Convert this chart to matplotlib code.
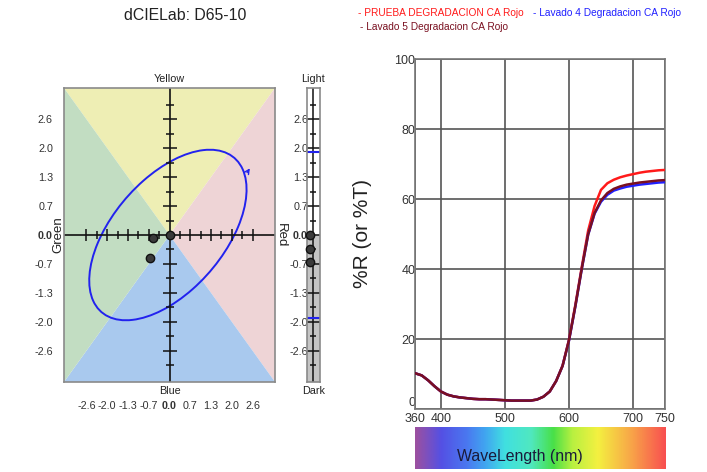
import matplotlib
matplotlib.use("Agg")
import matplotlib.font_manager as fm
import matplotlib.pyplot as plt
import numpy as np
from matplotlib.colors import LinearSegmentedColormap
from matplotlib.patches import Ellipse, Polygon

# the reference uses a narrow Arial; fall back to smaller regular text
_names = {f.name for f in fm.fontManager.ttflist}
if "Liberation Sans Narrow" in _names:
    NARROW, K = ["Liberation Sans Narrow", "DejaVu Sans"], 1.0
else:
    NARROW, K = ["Liberation Sans", "DejaVu Sans"], 0.82
REGULAR = ["Liberation Sans", "DejaVu Sans"]
plt.rcParams["font.family"] = NARROW

# --- colour difference (dCIELab) data ---
LAB_TICKS = [-2.6, -1.95, -1.3, -0.65, 0.0, 0.65, 1.3, 1.95, 2.6]
LAB_TICK_LABELS = ["-2.6", "-2.0", "-1.3", "-0.7", "0.0", "0.7", "1.3", "2.0", "2.6"]
DA = [0.0, -0.52, -0.60]
DB = [0.0, -0.07, -0.51]
DL = [0.0, -0.32, -0.61]
TOL_CENTER = (-0.05, 0.0)
TOL_WIDTH = 5.53
TOL_HEIGHT = 2.88
TOL_ANGLE = 32.3
TOL_DL = 1.86

# --- reflectance spectra ---
WAVELENGTH = [360, 370, 380, 390, 400, 410, 420, 430, 440, 450,
              460, 470, 480, 490, 500, 510, 520, 530, 540, 550,
              560, 570, 580, 590, 600, 610, 620, 630, 640, 650,
              660, 670, 680, 690, 700, 710, 720, 730, 740, 750]
PRUEBA = [10.2, 9.6, 8.2, 6.5, 5.0, 4.1, 3.6, 3.3, 3.1, 2.9,
          2.8, 2.8, 2.7, 2.6, 2.5, 2.4, 2.4, 2.4, 2.4, 2.7,
          3.5, 5.0, 8.0, 12.4, 19.8, 29.8, 40.6, 51.0, 58.0, 62.6,
          64.5, 65.5, 66.2, 66.7, 67.1, 67.5, 67.8, 68.0, 68.2, 68.3]
LAVADO4 = [10.2, 9.6, 8.2, 6.5, 5.0, 4.1, 3.6, 3.3, 3.1, 2.9,
           2.8, 2.8, 2.7, 2.6, 2.5, 2.4, 2.4, 2.4, 2.4, 2.7,
           3.5, 5.0, 8.0, 12.3, 19.5, 29.3, 40.0, 49.8, 55.8, 59.2,
           61.2, 62.4, 63.0, 63.5, 63.8, 64.1, 64.3, 64.5, 64.7, 64.8]
LAVADO5 = [10.2, 9.6, 8.2, 6.5, 5.0, 4.1, 3.6, 3.3, 3.1, 2.9,
           2.8, 2.8, 2.7, 2.6, 2.5, 2.4, 2.4, 2.4, 2.4, 2.7,
           3.5, 5.0, 8.0, 12.3, 19.6, 29.4, 40.1, 49.9, 56.0, 59.6,
           61.7, 62.9, 63.6, 64.1, 64.4, 64.7, 64.9, 65.1, 65.3, 65.4]
SERIES = [
    ("- PRUEBA DEGRADACION CA Rojo", PRUEBA, "#ff1a1a"),
    ("- Lavado 4 Degradacion CA Rojo", LAVADO4, "#2020ff"),
    ("- Lavado 5 Degradacion CA Rojo", LAVADO5, "#7a1020"),
]
SPECTRUM_NM = [360, 400, 440, 470, 500, 540, 575, 605, 645, 695, 750]
SPECTRUM_COLORS = ["#9c50a0", "#5450e4", "#4a78f0", "#40a8f0", "#40e0e0",
                   "#50e8c0", "#48e048", "#b8f040", "#f4f040", "#f8a848", "#f85050"]

W, H = 707, 472
LIM = 3.3
BLUE = "#2222ee"
SMALL = 9.5 * K

fig = plt.figure(figsize=(W / 100, H / 100), dpi=100)


def px_axes(x0, y0, x1, y1):
    return fig.add_axes([x0 / W, 1 - y1 / H, (x1 - x0) / W, (y1 - y0) / H])


# ---------- a*/b* chart ----------
ax = px_axes(64, 88, 275, 382)
ax.set_xlim(-LIM, LIM)
ax.set_ylim(-LIM, LIM)
quads = [
    ([(0, 0), (-LIM, LIM), (LIM, LIM)], "#eeeeb4"),
    ([(0, 0), (LIM, LIM), (LIM, -LIM)], "#eed4d6"),
    ([(0, 0), (LIM, -LIM), (-LIM, -LIM)], "#a9c9ee"),
    ([(0, 0), (-LIM, -LIM), (-LIM, LIM)], "#c2ddc2"),
]
for pts, col in quads:
    ax.add_patch(Polygon(pts, closed=True, facecolor=col, edgecolor="none"))
ax.axhline(0, color="#111", lw=1.2)
ax.axvline(0, color="#111", lw=1.2)

step = 0.325
xt = np.arange(-8, 9) * step
yt = np.arange(-9, 10) * step
for k, v in zip(range(-8, 9), xt):
    if k:
        ax.plot(v, 0, marker="|", ms=8 if k % 2 == 0 else 5.5, mew=1.1, color="#111")
for k, v in zip(range(-9, 10), yt):
    if k:
        ax.plot(0, v, marker="_", ms=10.5 if k % 2 == 0 else 5.5, mew=1.1, color="#111")

ax.add_patch(Ellipse(TOL_CENTER, TOL_WIDTH, TOL_HEIGHT, angle=TOL_ANGLE,
                     fill=False, edgecolor=BLUE, lw=1.4))
ax.annotate("", xy=(2.56, 1.55), xytext=(2.38, 1.35),
            arrowprops=dict(arrowstyle="->", color=BLUE, lw=1.0,
                            mutation_scale=8))
ax.plot(DA, DB, "o", ms=6, color="#3a3a3a", mec="#111", zorder=5)

ax.set_xticks(LAB_TICKS, LAB_TICK_LABELS)
ax.set_yticks(LAB_TICKS, LAB_TICK_LABELS)
ax.tick_params(length=0, labelsize=SMALL, labelcolor="#333")
ax.tick_params(axis="x", pad=14)
ax.tick_params(axis="y", pad=8)
for lab in ax.get_xticklabels() + ax.get_yticklabels():
    if lab.get_text() == "0.0":
        lab.set_fontweight("bold")
for s in ax.spines.values():
    s.set_color("#8a8a8a")
    s.set_linewidth(1.2)
ax.text(0.5, 1.012, "Yellow", transform=ax.transAxes, ha="center", va="bottom",
        fontsize=SMALL, color="#222")
ax.text(0.5, -0.012, "Blue", transform=ax.transAxes, ha="center", va="top",
        fontsize=SMALL, color="#222")
ax.text(-0.028, 0.5, "Green", transform=ax.transAxes, ha="center", va="center",
        rotation=90, fontsize=9.5, color="#222", family=REGULAR)
ax.text(1.028, 0.5, "Red", transform=ax.transAxes, ha="center", va="center",
        rotation=-90, fontsize=9.5, color="#222", family=REGULAR)

# ---------- lightness bar ----------
axl = px_axes(306.7, 88, 320, 382)
axl.set_xlim(-1, 1)
axl.set_ylim(-LIM, LIM)
axl.axhspan(0, LIM, color="white")
axl.axhspan(-LIM, 0, color="#c4c4c4")
axl.axvline(0, color="#111", lw=1.1)
for k, v in zip(range(-9, 10), yt):
    axl.plot(0, v, marker="_", ms=10 if k % 2 == 0 else 5, mew=1.1, color="#111")
for v in (TOL_DL, -TOL_DL):
    axl.axhline(v, color=BLUE, lw=1.5)
axl.plot([-0.45] * len(DL), DL, "o", ms=6, color="#3a3a3a", mec="#111", zorder=5,
         clip_on=False)
axl.set_xticks([])
axl.set_yticks(LAB_TICKS, LAB_TICK_LABELS)
axl.tick_params(length=0, labelsize=SMALL, labelcolor="#333", pad=-1)
for lab in axl.get_yticklabels():
    if lab.get_text() == "0.0":
        lab.set_fontweight("bold")
for s in axl.spines.values():
    s.set_color("#8a8a8a")
    s.set_linewidth(1.2)
axl.text(0.5, 1.012, "Light", transform=axl.transAxes, ha="center", va="bottom",
         fontsize=SMALL, color="#222")
axl.text(0.5, -0.012, "Dark", transform=axl.transAxes, ha="center", va="top",
         fontsize=SMALL, color="#222")

fig.text(185 / W, 1 - 15 / H, "dCIELab: D65-10", ha="center", va="center",
         fontsize=14 * K, color="#222")

# ---------- spectra ----------
axs = px_axes(415.3, 59, 665, 409)
for name, vals, col in SERIES:
    axs.plot(WAVELENGTH, vals, color=col, lw=1.8, zorder=3)
axs.set_xlim(360, 750)
axs.set_ylim(0, 100)
axs.set_xticks([360, 400, 500, 600, 700, 750])
axs.set_yticks([0, 20, 40, 60, 80, 100])
axs.grid(True, color="#555", lw=1.2)
axs.tick_params(length=0, labelsize=11 * K, labelcolor="#333")
axs.tick_params(axis="x", pad=3)
axs.tick_params(axis="y", pad=0)
axs.get_yticklabels()[0].set_va("bottom")
for s in axs.spines.values():
    s.set_color("#777")
    s.set_linewidth(1.2)
fig.text(362 / W, 1 - 234 / H, "%R (or %T)", rotation=90, ha="center",
         va="center", fontsize=15, color="#222", family=REGULAR)

leg_pos = [(358, 13), (533, 13), (360, 27)]
for (name, vals, col), (lx, ly) in zip(SERIES, leg_pos):
    fig.text(lx / W, 1 - ly / H, name, color=col, fontsize=8.9 * K, ha="left",
             va="center")

# ---------- wavelength colour bar ----------
axc = px_axes(415, 427.3, 665.7, 469)
stops = [(nm - 360) / 390 for nm in SPECTRUM_NM]
cmap = LinearSegmentedColormap.from_list("spec", list(zip(stops, SPECTRUM_COLORS)))
axc.imshow(np.linspace(0, 1, 400)[None, :], cmap=cmap, aspect="auto",
           extent=(360, 750, 0, 1))
axc.set_axis_off()
axc.text(0.42, 0.3, "WaveLength (nm)", transform=axc.transAxes, ha="center",
         va="center", fontsize=14 * K, color="#1a1a3a")

fig.savefig("out.png", dpi=100)
